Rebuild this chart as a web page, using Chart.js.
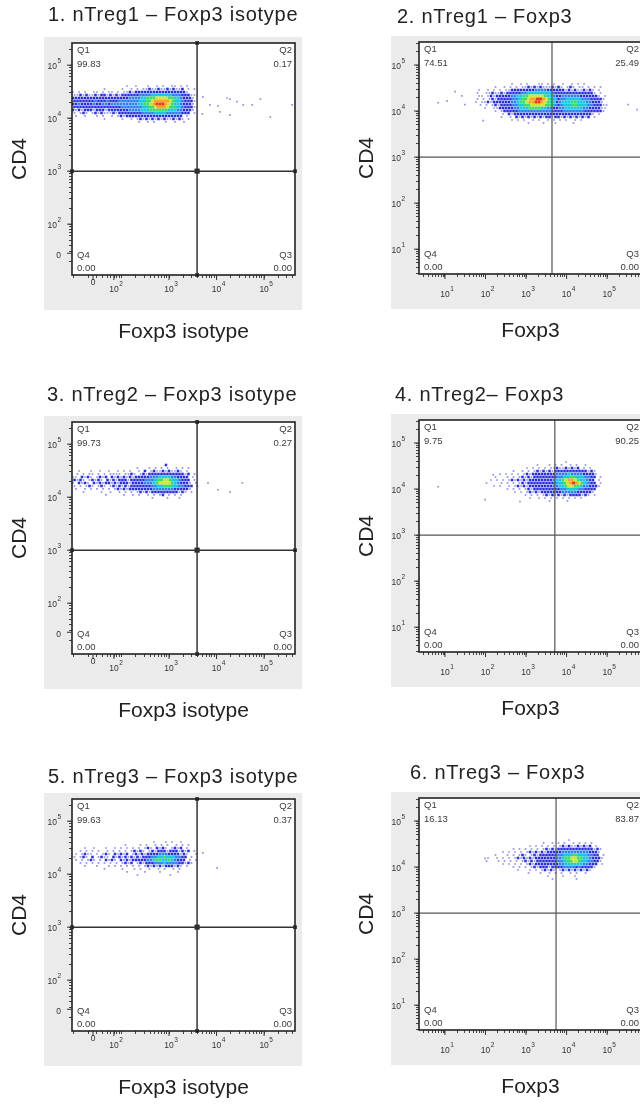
<!DOCTYPE html>
<html>
<head>
<meta charset="utf-8">
<script src="https://cdn.jsdelivr.net/npm/chart.js@4.4.1/dist/chart.umd.min.js"></script>
<style>
  html, body { margin: 0; padding: 0; background: #fff; }
  body { width: 640px; height: 1110px; overflow: hidden; position: relative; }
  .panel { position: absolute; }
</style>
</head>
<body>
<script>
// ---- text and quadrant statistics ----
const panelTitles = [
  '1. nTreg1 \u2013 Foxp3 isotype',
  '2. nTreg1 \u2013 Foxp3',
  '3. nTreg2 \u2013 Foxp3 isotype',
  '4. nTreg2\u2013 Foxp3',
  '5. nTreg3 \u2013 Foxp3 isotype',
  '6. nTreg3 \u2013 Foxp3'
];
const xAxisTitles = ['Foxp3 isotype', 'Foxp3', 'Foxp3 isotype', 'Foxp3', 'Foxp3 isotype', 'Foxp3'];
const yAxisTitle = 'CD4';

const q1Values = [99.83, 74.51, 99.73, 9.75, 99.63, 16.13];
const q2Values = [0.17, 25.49, 0.27, 90.25, 0.37, 83.87];
const q3Values = [0.00, 0.00, 0.00, 0.00, 0.00, 0.00];
const q4Values = [0.00, 0.00, 0.00, 0.00, 0.00, 0.00];

// quadrant gate positions (display decades)
const gateX = [3.59, 3.64, 3.59, 3.71, 3.59, 3.74];
const gateY = [3, 3, 3, 3, 3, 3];

// ---- axes (display decades) ----
const isoXRange = [0.958, 5.65];
const isoYRange = [1.04, 5.418];
const logXRange = [0.36, 5.86];
const logYRange = [0.46, 5.5];
const isoXTickValues = [1.40, 1.84, 3, 4, 5];
const isoYTickValues = [1.45, 2, 3, 4, 5];
const isoTickLabels = ['0', '10^2', '10^3', '10^4', '10^5'];
const logTickValues = [1, 2, 3, 4, 5];
const logTickLabels = ['10^1', '10^2', '10^3', '10^4', '10^5'];

// ---- density maps ----
// each character is one cell: '.' empty, 1 sparse ... 8 peak density
const isoGrid = { x0: 0.979, dx: 0.0631, y0: 4.607, dy: 0.0566 };
const logGrid = { x0: 1.618, dx: 0.074, y0: 4.588, dy: 0.0652 };

const panel1Rows = [
  '..................1..1...1..1.1..11.1.1..',
  '..........1.....1..1.1.11211211212112.1.1',
  '1.1.1..11.1.11.1.1121222222222222222221..',
  '11212112122121212222223333444444433322211',
  '22222222222222222223333445556666554432221',
  '22222223222322233333334455677777654432221',
  '22322223223323333333334455678887654432221',
  '22222222222222223333333445567776554432221',
  '21212221222122222223333444555555444332221',
  '1.121.121211121222222223333444433333222.1',
  '.1..1...1.1..1.1212222222222222222222.1..',
  '..........1.....1..1.1212121212112121.1..',
  '......................1..1.1...1..1..1...'
];
const panel1Extra = [
  [3.71, 4.40], [3.86, 4.25], [4.03, 4.23], [4.22, 4.38], [4.28, 4.36], [4.43, 4.31],
  [4.56, 4.25], [4.75, 4.25], [4.92, 4.36], [5.13, 4.02], [5.59, 4.25], [4.07, 4.12],
  [4.28, 4.06], [3.70, 4.08]
];

const panel2Rows = [
  '..............1..1.1...11.1.1..1..1.1.1.......',
  '........1..1.1.1.11212121112121.121.11.1.1.1..',
  '...1..1.1.1.112222222233332222221212112121.1..',
  '..1..1121121222223344444444322222222222221.1..',
  '...11.12122222334455666665443223333332222221.1',
  '..1.1.121222223345567788765442334444433322221.',
  '..1.11212222223345567788765442344455444332221.',
  '...1.1.121222233445566666554323444554443322211',
  '.....1..11222223344455554433223344444433222211',
  '........1.12222233333333333222233333332222221.',
  '...........1.21222222222222222222222222221.1..',
  '..........1..1.2121212121221221212121212.1....',
  '..............1.1.1..1.1..1.1.1.1..1.1........',
  '...................1....1...1.....1...........'
];
const panel2Extra = [
  [0.83, 4.18], [1.05, 4.22], [1.25, 4.42], [1.42, 4.33], [1.49, 4.14], [1.94, 3.79],
  [5.52, 4.14], [5.74, 4.03]
];

const panel3Rows = [
  '...............................2..........',
  '.....................1...1.1.1.1..1.1.1...',
  '..1...1..1..1..1.1.1..1.2.12112121121.1...',
  '.1.1.11.1.1.1111.1121.12122222222222212.1.',
  '11.2121.1212.21212121222223334444332222.1',
  '2121.12121.2121222122222333455665443222.1.',
  '1.2121.212122121222122223334566665432221.1',
  '1.1.121.121.1212121222222233445554433222.1.',
  '.1..1.1.1.1.1.12121222222223333333222221..',
  '...1.....1..1..1.1.1.12121222222222121.1...',
  '...........1.....1..1.1..1.1.12.1.1.1.....',
  '..........................1....1...1......'
];
const panel3Extra = [[3.82, 4.27], [4.03, 4.14], [4.28, 4.10], [4.54, 4.27]];

const panel4Rows = [
  '................................1.........',
  '......................1...1.1.1..1.1..1...',
  '...................1.1.1.1.1121121212.1.1..',
  '..............1..1.1.121212122222222222121.',
  '..........1.1.1.1.1212222222233334333322221',
  '........1...1.1.12121222222223344554443322.1',
  '.......1.1.1.12121212222222234456776544322.1',
  '.....1....1.1.1.12122222222234456787654322.1',
  '........1.1..1.12121222222223344566554332221',
  '............1.1.1.121222222222334444332222.',
  '...............1.1.12121222222233333222221..',
  '..................1.1.1.1212121212222121.1..',
  '....................1..1.1.1.1.1.1.1.1......',
  '..........................1.....1...........'
];
const panel4Extra = [[0.83, 4.05], [1.99, 3.77], [2.19, 4.31], [2.85, 3.73]];

const panel5Rows = [
  '...........................1...1.1..1....',
  '.................1....1.1..1.1.1..1.1.1...',
  '....1..1...1..1.1.1.1.1.121.2121.1212.1...',
  '..1.1.1.1..1.1.1.1.12121.12122212221212.1.',
  '.1.1211.1.121.21212.1212122223332222121..1',
  '1.121.2.1211.2121212121222334454443322.1.',
  '.1.1.121.1.2121.2121222223345544543222.1.1',
  '..1.1.1.1.1.1.1.1212.1212223334333322121..',
  '....1...1...1.1.1.1.1.1.1212121222121.1...',
  '..........1.....1...1.1..1..1.1..1.1......',
  '..................1.....1....1.....1......',
  '.....................1..........1.........'
];
const panel5Extra = [[3.71, 4.40], [4.01, 4.12]];

const panel6Rows = [
  '.................................1.........',
  '........................1..1.1.1..1.1.1.1...',
  '....................1.1.1.1.1.12121121212.1..',
  '..............1.1.1.1.1.12121222222222222121.',
  '...........1.1.1.1.1212121222223333333332221',
  '........1...1.1.121.12122222233444554443322.1',
  '......1..1.1.1.121212122222223345566554432221',
  '.....1...1.1.1.1.121212222222334556654433221.',
  '...........1.1.1.1.121222222223344444433222.1',
  '..............1.1.1.1212221222233332322221...',
  '................1...1.1.12121.12121212121....',
  '...................1...1..1.1.1..1.1..1......',
  '..........................1....1...1........',
  '...........................1.......1........'
];
const panel6Extra = [[1.99, 4.19]];

const densityRows = [panel1Rows, panel2Rows, panel3Rows, panel4Rows, panel5Rows, panel6Rows];
const extraEvents = [panel1Extra, panel2Extra, panel3Extra, panel4Extra, panel5Extra, panel6Extra];

// ---- layout and styles ----
const PANEL_LAYOUT = [
  { left: 72, top: 43, titleDx: -24, titleDy: -28, isotype: true },
  { left: 419, top: 42, titleDx: -22, titleDy: -25, isotype: false },
  { left: 72, top: 422, titleDx: -25, titleDy: -27, isotype: true },
  { left: 419, top: 420, titleDx: -24, titleDy: -25, isotype: false },
  { left: 72, top: 799, titleDx: -24, titleDy: -22, isotype: true },
  { left: 419, top: 798, titleDx: -9, titleDy: -25, isotype: false }
];
const PLOT_W = 223;
const PLOT_H = 232;
const PAD_LEFT = 64;
const PAD_TOP = 44;
const PAD_RIGHT = 12;
const PAD_BOTTOM = 70;

const FONT = '"Liberation Sans", Arial, sans-serif';
const LEVEL_COLORS = {
  1: '#8c90e8',
  2: '#2a30d8',
  3: '#2f80ef',
  4: '#1ec6e2',
  5: '#3ddc6c',
  6: '#cde43a',
  7: '#f6a623',
  8: '#ec3b1c'
};
const LEVEL_RADIUS = { 1: 1.2, 2: 1.8, 3: 1.95, 4: 2.15, 5: 2.15, 6: 2.15, 7: 2.15, 8: 2.15 };

function tickMarks(min, max) {
  const marks = [];
  for (let n = Math.floor(min); n <= Math.ceil(max); n++) {
    for (let k = 1; k <= 9; k++) {
      const v = n + Math.log10(k);
      if (v >= min && v <= max) marks.push(v);
    }
  }
  return marks;
}

// odd rows sit half a cell to the right so the map does not look like a lattice
function decodeDensity(rows, grid) {
  const levels = {};
  rows.forEach((row, r) => {
    [...row].forEach((ch, c) => {
      if (ch === '.') return;
      (levels[ch] = levels[ch] || []).push({
        x: grid.x0 + (c + (r % 2) * 0.5) * grid.dx,
        y: grid.y0 - r * grid.dy
      });
    });
  });
  return levels;
}

function drawPowerLabel(ctx, text, x, y, anchor) {
  const baseFont = `8.5px ${FONT}`;
  const expFont = `6.5px ${FONT}`;
  ctx.textBaseline = 'middle';
  if (!text.includes('^')) {
    ctx.font = baseFont;
    ctx.textAlign = anchor === 'right' ? 'right' : 'center';
    ctx.fillText(text, x, y);
    return;
  }
  const [base, exp] = text.split('^');
  ctx.font = expFont;
  const expWidth = ctx.measureText(exp).width;
  ctx.font = baseFont;
  const baseWidth = ctx.measureText(base).width;
  const baseLeft = anchor === 'right' ? x - expWidth - 0.5 - baseWidth : x - baseWidth / 2;
  ctx.textAlign = 'left';
  ctx.fillText(base, baseLeft, y);
  ctx.font = expFont;
  ctx.fillText(exp, baseLeft + baseWidth + 0.5, y - 6);
}

const decorPlugin = {
  id: 'decor',
  beforeDraw(chart) {
    const { ctx, chartArea: a } = chart;
    ctx.save();
    ctx.fillStyle = '#ebebeb';
    ctx.fillRect(a.left - 28, a.top - 6, a.width + 35, a.height + 41);
    ctx.fillStyle = '#ffffff';
    ctx.fillRect(a.left, a.top, a.width, a.height);
    ctx.restore();
  },
  afterDatasetsDraw(chart) {
    const { ctx, chartArea: a } = chart;
    ctx.save();
    ctx.strokeStyle = '#222';
    ctx.lineWidth = 1.6;
    ctx.strokeRect(a.left, a.top, a.width, a.height);
    ctx.restore();
  },
  afterDraw(chart, args, opts) {
    const { ctx, chartArea: a, scales } = chart;
    ctx.save();
    ctx.fillStyle = '#222';

    // panel title
    ctx.font = `20px ${FONT}`;
    ctx.letterSpacing = '0.75px';
    ctx.textAlign = 'left';
    ctx.textBaseline = 'middle';
    ctx.fillText(opts.title, a.left + opts.titleDx, a.top + opts.titleDy);
    ctx.letterSpacing = '0px';

    // major tick marks and labels
    ctx.strokeStyle = '#333';
    ctx.lineWidth = 1;
    ctx.fillStyle = '#333';
    opts.xTicks.forEach((v, i) => {
      const px = scales.x.getPixelForValue(v);
      ctx.beginPath();
      ctx.moveTo(px, a.bottom);
      ctx.lineTo(px, a.bottom + 5);
      ctx.stroke();
      const label = opts.tickLabels[i];
      const yOff = label.includes('^') ? opts.xLabelDy : opts.xLabelDy - 7;
      drawPowerLabel(ctx, label, px, a.bottom + yOff, 'center');
    });
    opts.yTicks.forEach((v, i) => {
      const py = scales.y.getPixelForValue(v);
      ctx.beginPath();
      ctx.moveTo(a.left - 5, py);
      ctx.lineTo(a.left, py);
      ctx.stroke();
      drawPowerLabel(ctx, opts.tickLabels[i], a.left - opts.yLabelGap, py + 2, 'right');
    });

    // quadrant names and percentages
    ctx.fillStyle = '#3a3a3a';
    ctx.font = `9.5px ${FONT}`;
    ctx.textBaseline = 'middle';
    ctx.textAlign = 'left';
    ctx.fillText('Q1', a.left + 5, a.top + 7);
    ctx.fillText(opts.q[0].toFixed(2), a.left + 5, a.top + 21);
    ctx.fillText('Q4', a.left + 5, a.bottom - 20);
    ctx.fillText(opts.q[3].toFixed(2), a.left + 5, a.bottom - 7);
    ctx.textAlign = 'right';
    ctx.fillText('Q2', a.right - 3, a.top + 7);
    ctx.fillText(opts.q[1].toFixed(2), a.right - 3, a.top + 21);
    ctx.fillText('Q3', a.right - 3, a.bottom - 20);
    ctx.fillText(opts.q[2].toFixed(2), a.right - 3, a.bottom - 7);
    ctx.restore();
  }
};

function buildDatasets(i) {
  const lay = PANEL_LAYOUT[i];
  const grid = lay.isotype ? isoGrid : logGrid;
  const xr = lay.isotype ? isoXRange : logXRange;
  const yr = lay.isotype ? isoYRange : logYRange;
  const lineColor = lay.isotype ? '#333' : '#555';
  const lineWidth = lay.isotype ? 1.5 : 1.2;
  const sets = [
    {
      data: [{ x: gateX[i], y: yr[0] }, { x: gateX[i], y: yr[1] }],
      showLine: true, borderColor: lineColor, borderWidth: lineWidth, pointRadius: 0, order: 0
    },
    {
      data: [{ x: xr[0], y: gateY[i] }, { x: xr[1], y: gateY[i] }],
      showLine: true, borderColor: lineColor, borderWidth: lineWidth, pointRadius: 0, order: 0
    }
  ];
  if (lay.isotype) {
    sets.push({
      data: [
        { x: gateX[i], y: yr[1] }, { x: gateX[i], y: gateY[i] }, { x: gateX[i], y: yr[0] },
        { x: xr[0], y: gateY[i] }, { x: xr[1], y: gateY[i] }
      ],
      pointStyle: 'rect', pointRadius: [2.6, 3.6, 2.6, 2.6, 2.6], pointBorderWidth: 0,
      backgroundColor: '#222', clip: false, order: 0
    });
  }
  const levels = decodeDensity(densityRows[i], grid);
  levels['1'] = (levels['1'] || []).concat(extraEvents[i].map(([x, y]) => ({ x, y })));
  Object.keys(levels).sort().forEach((k) => {
    sets.push({
      data: levels[k],
      pointStyle: 'rect',
      pointRadius: LEVEL_RADIUS[k],
      pointBorderWidth: 0,
      backgroundColor: LEVEL_COLORS[k],
      order: 20 - Number(k)
    });
  });
  return sets;
}

function createPanel(i) {
  const lay = PANEL_LAYOUT[i];
  const width = PAD_LEFT + PLOT_W + PAD_RIGHT;
  const height = PAD_TOP + PLOT_H + PAD_BOTTOM;
  const wrap = document.createElement('div');
  wrap.className = 'panel';
  wrap.style.left = `${lay.left - PAD_LEFT}px`;
  wrap.style.top = `${lay.top - PAD_TOP}px`;
  const canvas = document.createElement('canvas');
  canvas.width = width;
  canvas.height = height;
  canvas.style.width = `${width}px`;
  canvas.style.height = `${height}px`;
  wrap.appendChild(canvas);
  document.body.appendChild(wrap);

  const xr = lay.isotype ? isoXRange : logXRange;
  const yr = lay.isotype ? isoYRange : logYRange;

  const axisTitle = (text) => ({
    display: true,
    text,
    color: '#222',
    font: { family: FONT, size: 21 },
    padding: { top: 0, bottom: 0 }
  });

  new Chart(canvas, {
    type: 'scatter',
    data: { datasets: buildDatasets(i) },
    plugins: [decorPlugin],
    options: {
      responsive: false,
      devicePixelRatio: 1,
      animation: false,
      events: [],
      layout: { padding: { top: PAD_TOP, right: PAD_RIGHT, left: 0, bottom: 0 } },
      plugins: {
        legend: { display: false },
        title: { display: false },
        tooltip: { enabled: false },
        decor: {
          title: panelTitles[i],
          titleDx: lay.titleDx,
          titleDy: lay.titleDy,
          q: [q1Values[i], q2Values[i], q3Values[i], q4Values[i]],
          xTicks: lay.isotype ? isoXTickValues : logTickValues,
          yTicks: lay.isotype ? isoYTickValues : logTickValues,
          tickLabels: lay.isotype ? isoTickLabels : logTickLabels,
          xLabelDy: lay.isotype ? 15 : 21,
          yLabelGap: lay.isotype ? 11 : 14
        }
      },
      scales: {
        x: {
          type: 'linear',
          position: 'bottom',
          min: xr[0],
          max: xr[1],
          afterBuildTicks: (scale) => { scale.ticks = tickMarks(xr[0], xr[1]).map((value) => ({ value })); },
          afterFit: (scale) => { scale.height = PAD_BOTTOM; },
          ticks: { display: false },
          grid: { drawOnChartArea: false, drawTicks: true, tickLength: 3, color: '#444', lineWidth: 1 },
          border: { display: false },
          title: axisTitle(xAxisTitles[i])
        },
        y: {
          type: 'linear',
          position: 'left',
          min: yr[0],
          max: yr[1],
          afterBuildTicks: (scale) => { scale.ticks = tickMarks(yr[0], yr[1]).map((value) => ({ value })); },
          afterFit: (scale) => { scale.width = PAD_LEFT; },
          ticks: { display: false },
          grid: { drawOnChartArea: false, drawTicks: true, tickLength: 3, color: '#444', lineWidth: 1 },
          border: { display: false },
          title: axisTitle(yAxisTitle)
        }
      }
    }
  });
}

PANEL_LAYOUT.forEach((_, i) => createPanel(i));
</script>
</body>
</html>
